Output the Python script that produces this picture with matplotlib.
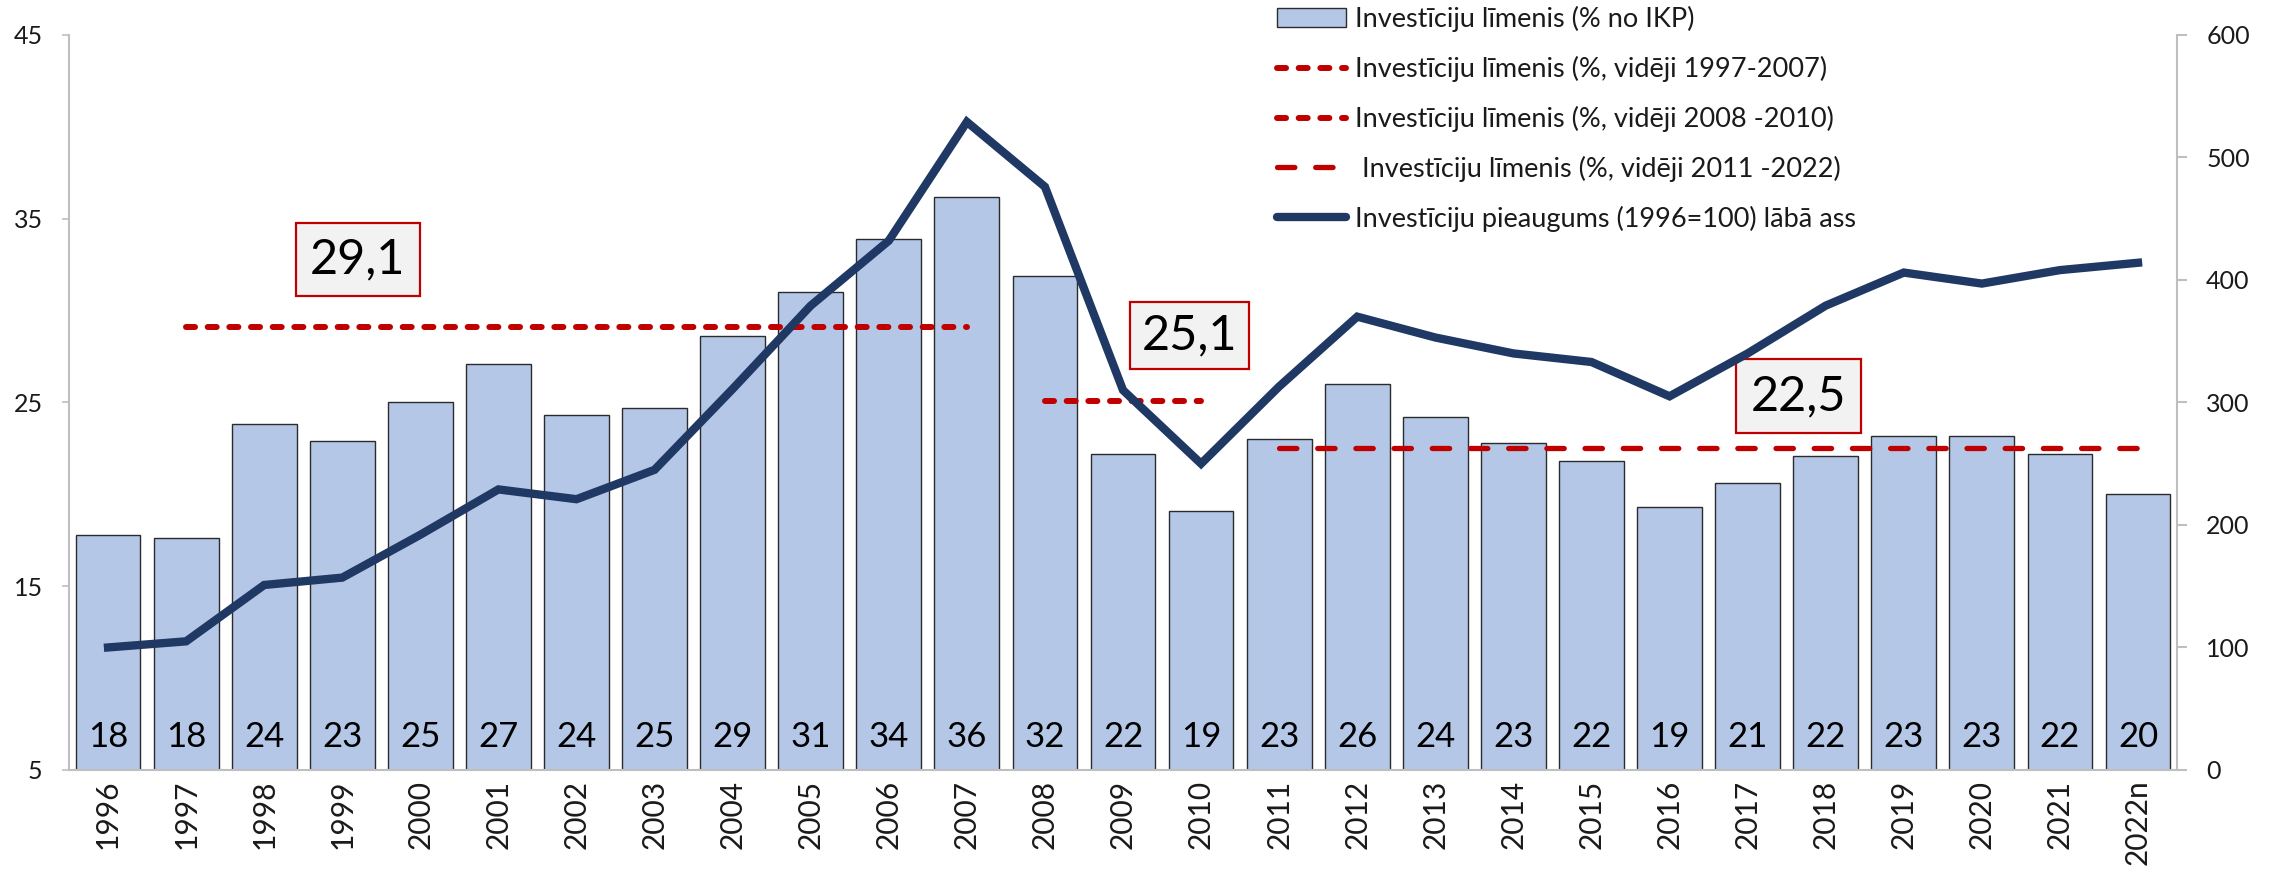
import matplotlib
matplotlib.use("Agg")
import matplotlib.pyplot as plt
from matplotlib.patches import Patch
from matplotlib.lines import Line2D

plt.rcParams['font.family'] = ['Lato', 'DejaVu Sans']
plt.rcParams['lines.scale_dashes'] = False

# ---------------- data ----------------
years = ['1996', '1997', '1998', '1999', '2000', '2001', '2002', '2003', '2004',
         '2005', '2006', '2007', '2008', '2009', '2010', '2011', '2012', '2013',
         '2014', '2015', '2016', '2017', '2018', '2019', '2020', '2021', '2022n']
invest_level = [17.8, 17.6, 23.8, 22.9, 25.0, 27.1, 24.3, 24.7, 28.6, 31.0, 33.9,
                36.2, 31.9, 22.2, 19.1, 23.0, 26.0, 24.2, 22.8, 21.8, 19.3, 20.6,
                22.1, 23.2, 23.2, 22.2, 20.0]
bar_labels = ['18', '18', '24', '23', '25', '27', '24', '25', '29', '31', '34', '36',
              '32', '22', '19', '23', '26', '24', '23', '22', '19', '21', '22', '23',
              '23', '22', '20']
invest_growth = [100, 105, 151, 157, 192, 229, 221, 245, 311, 379, 432, 529, 476,
                 310, 250, 313, 370, 353, 340, 333, 305, 340, 379, 406, 397, 408, 414]

avg_values = [29.1, 25.1, 22.5]
avg_texts = ['29,1', '25,1', '22,5']
avg_start = ['1997', '2008', '2011']
avg_end = ['2007', '2010', '2022n']

legend_labels = ['Investīciju līmenis (% no IKP)',
                 'Investīciju līmenis (%, vidēji 1997-2007)',
                 'Investīciju līmenis (%, vidēji 2008 -2010)',
                 ' Investīciju līmenis (%, vidēji 2011 -2022)',
                 'Investīciju pieaugums (1996=100) lābā ass']

# ---------------- style ----------------
bar_color = '#B4C7E7'
red = '#C00000'
navy = '#1F3864'
axis_gray = '#BFBFBF'
text_col = '#1A1A1A'

fig = plt.figure(figsize=(22.77, 8.72), dpi=100)
ax = fig.add_axes([0.0303, 0.117, 0.9258, 0.843])
ax2 = ax.twinx()

x = list(range(len(years)))
ax.bar(x, [v - 5 for v in invest_level], bottom=5, width=0.83, color=bar_color,
       edgecolor='#2B2B2B', linewidth=1.0, zorder=2)

for xi, lab in zip(x, bar_labels):
    ax.text(xi, 0.045, lab, transform=ax.get_xaxis_transform(), ha='center',
            va='center', fontsize=25, color='black', zorder=5)

avg_styles = [dict(dashes=(6.5, 9.1), lw=4.3),
              dict(dashes=(6.5, 9.1), lw=4.3),
              dict(dashes=(12.5, 15.0), lw=3.8)]
for val, s, e, st in zip(avg_values, avg_start, avg_end, avg_styles):
    i0, i1 = years.index(s), years.index(e)
    ax.plot([i0, i1], [val, val], color=red, solid_capstyle='round',
            dash_capstyle='round', zorder=4, **st)

box_pos = [(3.2, 32.8), (13.85, 28.65), (21.65, 25.35)]
box_pads = [0.3, 0.24, 0.3]
for (bx, by), t, p in zip(box_pos, avg_texts, box_pads):
    ax.text(bx, by, t, ha='center', va='center', fontsize=35, color='black', zorder=6,
            bbox=dict(boxstyle='square,pad=%.2f' % p, fc='#F2F2F2', ec=red, lw=1.6))

ax2.plot(x, invest_growth, color=navy, lw=6.0, solid_joinstyle='miter', zorder=5)

ax.set_xlim(-0.5, len(years) - 0.5)
ax.set_ylim(5, 45)
ax.set_yticks([5, 15, 25, 35, 45])
ax2.set_ylim(0, 600)
ax2.set_yticks(range(0, 601, 100))

ax.set_xticks(x)
ax.set_xticklabels(years, rotation=90, fontsize=21.5, color=text_col)
ax.tick_params(axis='x', length=0, pad=7)
ax.tick_params(axis='y', labelsize=18, labelcolor=text_col, color=axis_gray,
               length=5, width=1.2, pad=14)
ax2.tick_params(axis='y', labelsize=18, labelcolor=text_col, color=axis_gray,
                length=7, width=1.5, pad=14)

for a in (ax, ax2):
    a.spines['top'].set_visible(False)
    for sp in ('left', 'right', 'bottom'):
        a.spines[sp].set_color(axis_gray)
        a.spines[sp].set_linewidth(1.5)
ax2.spines['bottom'].set_visible(False)
ax.spines['right'].set_visible(False)
ax2.spines['left'].set_visible(False)

handles = [Patch(facecolor=bar_color, edgecolor='#2B2B2B', linewidth=1.0),
           Line2D([], [], color=red, dash_capstyle='round', **avg_styles[0]),
           Line2D([], [], color=red, dash_capstyle='round', **avg_styles[1]),
           Line2D([], [], color=red, dash_capstyle='round', **avg_styles[2]),
           Line2D([], [], color=navy, lw=6.0, solid_capstyle='round')]
leg = fig.legend(handles, legend_labels, loc='upper left',
                 bbox_to_anchor=(1277 / 2277, 1 - 6 / 872), frameon=False,
                 fontsize=19.5, handlelength=2.55, handletextpad=0.33,
                 labelspacing=0.88, borderpad=0, borderaxespad=0)
for t in leg.get_texts():
    t.set_color(text_col)

fig.savefig('out.png', dpi=100)
